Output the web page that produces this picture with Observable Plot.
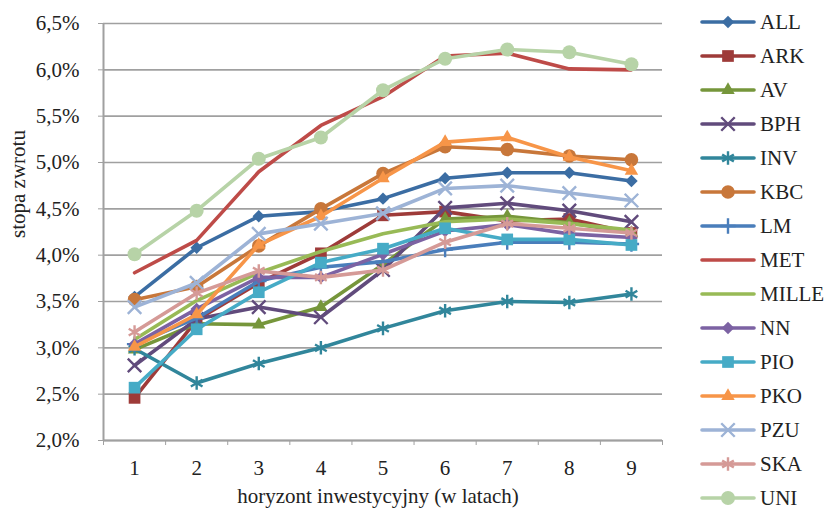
<!DOCTYPE html>
<html><head><meta charset="utf-8">
<script src="https://cdn.jsdelivr.net/npm/d3@7"></script>
<script src="https://cdn.jsdelivr.net/npm/@observablehq/plot@0.6"></script>
<style>
body{margin:0;background:#fff;}
#wrap{position:relative;width:824px;height:516px;font-family:"Liberation Serif",Tinos,"Times New Roman",Times,"DejaVu Serif",serif;color:#222;}
#chart{position:absolute;left:0;top:0;}
#legend{position:absolute;left:0;top:0;}
.item{position:absolute;left:699px;height:24px;display:flex;align-items:center;font-size:21px;line-height:24px;white-space:nowrap;}
.item svg{margin-right:3px;}
</style></head><body><div id="wrap"><div id="chart"></div><div id="legend"></div></div>
<script>
// Data (rates of return in %, by investment horizon in years)
const years = [1, 2, 3, 4, 5, 6, 7, 8, 9];
const yTicks = [2.0, 2.5, 3.0, 3.5, 4.0, 4.5, 5.0, 5.5, 6.0, 6.5];
const seriesNames = ["ALL","ARK","AV","BPH","INV","KBC","LM","MET","MILLE","NN","PIO","PKO","PZU","SKA","UNI"];
const ALL   = [3.55, 4.08, 4.42, 4.47, 4.61, 4.83, 4.89, 4.89, 4.80];
const ARK   = [2.46, 3.30, 3.70, 4.02, 4.43, 4.47, 4.37, 4.39, 4.24];
const AV    = [2.98, 3.26, 3.25, 3.44, 3.90, 4.39, 4.42, 4.35, 4.24];
const BPH   = [2.81, 3.31, 3.44, 3.33, 3.84, 4.51, 4.56, 4.48, 4.36];
const INV   = [2.99, 2.62, 2.83, 3.00, 3.21, 3.40, 3.50, 3.49, 3.58];
const KBC   = [3.52, 3.66, 4.10, 4.50, 4.88, 5.17, 5.14, 5.07, 5.03];
const LM    = [3.04, 3.32, 3.72, 3.87, 3.93, 4.06, 4.14, 4.14, 4.12];
const MET   = [3.81, 4.16, 4.90, 5.40, 5.71, 6.15, 6.18, 6.01, 6.00];
const MILLE = [3.09, 3.51, 3.81, 4.04, 4.23, 4.36, 4.39, 4.34, 4.27];
const NN    = [3.04, 3.42, 3.76, 3.76, 4.01, 4.26, 4.33, 4.23, 4.19];
const PIO   = [2.57, 3.20, 3.60, 3.92, 4.07, 4.29, 4.17, 4.17, 4.11];
const PKO   = [3.01, 3.36, 4.11, 4.42, 4.83, 5.22, 5.27, 5.06, 4.91];
const PZU   = [3.44, 3.70, 4.23, 4.34, 4.45, 4.72, 4.75, 4.67, 4.59];
const SKA   = [3.17, 3.59, 3.83, 3.76, 3.84, 4.14, 4.34, 4.29, 4.24];
const UNI   = [4.01, 4.48, 5.04, 5.27, 5.78, 6.12, 6.22, 6.19, 6.06];
const values = {ALL, ARK, AV, BPH, INV, KBC, LM, MET, MILLE, NN, PIO, PKO, PZU, SKA, UNI};

// Styles
const FONT = "'Liberation Serif', Tinos, 'Times New Roman', Times, 'DejaVu Serif', serif";
const colors = {ALL:"#3B6DA3", ARK:"#9E3B39", AV:"#76963B", BPH:"#614B7C", INV:"#31869B", KBC:"#C8773A",
  LM:"#4A7EBB", MET:"#BE4B48", MILLE:"#98BA56", NN:"#7C62A3", PIO:"#46ABC6", PKO:"#F79548",
  PZU:"#9DB3D6", SKA:"#D59A97", UNI:"#B7D3A7"};
// [symbol, r, filled]
const markers = {ALL:["diamond2",5.6,true], ARK:["square",6.6,true], AV:["triangle",5.0,true],
  BPH:["times",6.2,false], INV:["asterisk",6.4,false], KBC:["circle",6.8,true], LM:["plus",5.0,false],
  MET:null, MILLE:null, NN:["diamond2",5.6,true], PIO:["square",6.6,true], PKO:["triangle",5.0,true],
  PZU:["times",6.2,false], SKA:["asterisk",6.4,false], UNI:["circle",7.0,true]};

const rows = seriesNames.flatMap(s => years.map((yr, i) => ({series: s, year: yr, value: values[s][i]})));
const boundaries = years.map(d => d - 0.5).concat([years[years.length - 1] + 0.5]);
const fmt = d => d.toFixed(1).replace(".", ",") + "%";

const marks = [
  Plot.gridY(yTicks, {stroke: "#a0a0a0", strokeOpacity: 1, strokeWidth: 1.6}),
  Plot.ruleX([boundaries[0]], {stroke: "#a0a0a0", strokeWidth: 2}),
  Plot.ruleY([yTicks[0]], {stroke: "#a0a0a0", strokeWidth: 2}),
  Plot.axisY(yTicks, {tickSize: 5, tickPadding: 19, tickFormat: fmt, stroke: "#a0a0a0", fill: "#222", label: null, fontFamily: FONT}),
  Plot.axisX(boundaries, {tickSize: 5, tickFormat: () => "", stroke: "#a0a0a0", label: null}),
  Plot.axisX(years, {tickSize: 0, tickPadding: 20, tickFormat: d => String(d), fill: "#222", label: null, fontFamily: FONT}),
  Plot.text(["stopa zwrotu"], {frameAnchor: "left", rotate: -90, dx: -85, dy: 6, fill: "#222", fontSize: 21, fontFamily: FONT}),
  Plot.text(["horyzont inwestycyjny (w latach)"], {frameAnchor: "bottom", dy: 62, dx: -5, fill: "#222", fontSize: 21, fontFamily: FONT})
];
for (const s of seriesNames) {
  const d = rows.filter(r => r.series === s);
  marks.push(Plot.line(d, {x: "year", y: "value", stroke: colors[s], strokeWidth: 3.6, strokeLinejoin: "round", strokeLinecap: "round"}));
  const m = markers[s];
  if (m) {
    if (m[2]) marks.push(Plot.dot(d, {x: "year", y: "value", symbol: m[0], r: m[1], fill: colors[s], stroke: "none"}));
    else marks.push(Plot.dot(d, {x: "year", y: "value", symbol: m[0], r: m[1], fill: "none", stroke: colors[s], strokeWidth: 2.4}));
  }
}

const chart = Plot.plot({
  width: 690, height: 516,
  marginLeft: 103, marginRight: 28, marginTop: 23, marginBottom: 76,
  x: {type: "linear", domain: [boundaries[0], boundaries[boundaries.length - 1]]},
  y: {type: "linear", domain: [yTicks[0], yTicks[yTicks.length - 1]]},
  style: {fontFamily: FONT, fontSize: "21px", color: "#222", background: "transparent"},
  marks
});
document.getElementById("chart").appendChild(chart);

// Legend
const symMap = {diamond2: d3.symbolDiamond2, square: d3.symbolSquare, triangle: d3.symbolTriangle,
  times: d3.symbolTimes, asterisk: d3.symbolAsterisk, circle: d3.symbolCircle, plus: d3.symbolPlus};
const legend = document.getElementById("legend");
seriesNames.forEach((s, i) => {
  const item = document.createElement("div");
  item.className = "item";
  item.style.top = (21.7 + i * 34.05 - 12) + "px";
  const svg = d3.create("svg").attr("width", 58).attr("height", 24);
  svg.append("line").attr("x1", 3).attr("x2", 55).attr("y1", 12).attr("y2", 12)
    .attr("stroke", colors[s]).attr("stroke-width", 3.6).attr("stroke-linecap", "round");
  const m = markers[s];
  if (m) {
    const p = svg.append("path").attr("transform", "translate(29,12)")
      .attr("d", d3.symbol(symMap[m[0]], Math.PI * m[1] * m[1])());
    if (m[2]) p.attr("fill", colors[s]);
    else p.attr("fill", "none").attr("stroke", colors[s]).attr("stroke-width", 2.4);
  }
  item.appendChild(svg.node());
  const t = document.createElement("span");
  t.textContent = s;
  item.appendChild(t);
  legend.appendChild(item);
});
</script></body></html>
